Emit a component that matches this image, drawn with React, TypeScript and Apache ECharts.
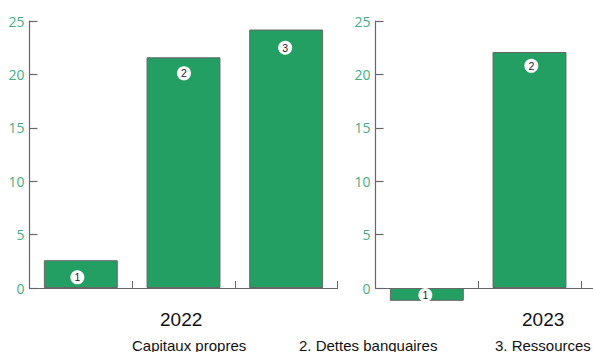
import React, { useEffect, useRef } from "react";
import * as echarts from "echarts";

const categories2022 = ["1", "2", "3"];
const values2022 = [2.6, 21.6, 24.2];
const badges2022 = [1.0, 20.1, 22.5];

const categories2023 = ["1", "2", "3"];
const values2023: (number | null)[] = [-1.2, 22.1, null];
const badges2023: (number | null)[] = [-0.65, 20.8, null];

const yearLabels = ["2022", "2023"];
const legendLabels = ["Capitaux propres", "2. Dettes banquaires", "3. Ressources"];

const badgeShift2022 = [-3.5, 0.5, -1];
const badgeShift2023 = [-1.5, 1.8, 0];

const GREEN = "#239f63";
const TICK_GREEN = "#45ad7f";
const AXIS_GREY = "#666666";

const makeXAxis = (gridIndex: number, data: string[]) => ({
  type: "category" as const,
  gridIndex,
  data,
  axisLine: { onZero: true, lineStyle: { color: AXIS_GREY, width: 1.2 } },
  axisTick: { show: true, inside: true, length: 7, lineStyle: { color: AXIS_GREY } },
  axisLabel: { show: false },
  splitLine: { show: false },
});

const makeYAxis = (gridIndex: number) => ({
  type: "value" as const,
  gridIndex,
  min: 0,
  max: 25,
  interval: 5,
  axisLine: { show: true, lineStyle: { color: AXIS_GREY, width: 1.2 } },
  axisTick: { show: true, inside: true, length: 8, lineStyle: { color: AXIS_GREY, width: 1.2 } },
  axisLabel: {
    color: TICK_GREEN,
    fontFamily: "Open Sans",
    fontSize: 14,
    margin: 5,
  },
  splitLine: { show: false },
});

const makeBars = (index: number, values: (number | null)[]) => ({
  type: "bar" as const,
  xAxisIndex: index,
  yAxisIndex: index,
  data: values,
  barWidth: "72%",
  clip: false,
  itemStyle: { color: GREEN, borderColor: AXIS_GREY, borderWidth: 1 },
});

const makeBadges = (
  index: number,
  values: (number | null)[],
  labels: string[],
  shifts: number[],
) => ({
  type: "scatter" as const,
  xAxisIndex: index,
  yAxisIndex: index,
  clip: false,
  z: 5,
  symbol: "circle",
  symbolSize: 14,
  itemStyle: { color: "#ffffff", opacity: 1 },
  data: values.map((value, i) => ({
    value: [i, value],
    symbolOffset: [shifts[i], 0],
    label: {
      show: value !== null,
      position: "inside",
      formatter: labels[i],
      color: "#222222",
      fontFamily: "Liberation Sans",
      fontSize: 10.5,
    },
  })),
});

const caption = (text: string, x: number, y: number, fontSize: number) => ({
  type: "text" as const,
  x,
  y,
  style: {
    text,
    fill: "#111111",
    fontFamily: "Liberation Sans",
    fontSize,
    textAlign: "left",
    textVerticalAlign: "middle",
  },
});

export default function App() {
  const ref = useRef<HTMLDivElement>(null);

  useEffect(() => {
    const chart = echarts.init(ref.current!, null, { renderer: "svg" });
    chart.setOption({
      animation: false,
      grid: [
        { left: 29.5, top: 21, width: 308, height: 267 },
        { left: 375.5, top: 21, width: 308, height: 267 },
      ],
      xAxis: [makeXAxis(0, categories2022), makeXAxis(1, categories2023)],
      yAxis: [makeYAxis(0), makeYAxis(1)],
      series: [
        makeBars(0, values2022),
        makeBars(1, values2023),
        makeBadges(0, badges2022, categories2022, badgeShift2022),
        makeBadges(1, badges2023, categories2023, badgeShift2023),
      ],
      graphic: [
        caption(yearLabels[0], 160, 319, 19),
        caption(yearLabels[1], 522, 319, 19),
        caption(legendLabels[0], 132, 345, 15),
        caption(legendLabels[1], 299, 345, 15),
        caption(legendLabels[2], 495, 345, 15),
      ],
    });
    return () => chart.dispose();
  }, []);

  // The third 2023 slot runs past the page edge, so the chart is wider than its frame.
  return (
    <div style={{ position: "absolute", left: 0, top: 0, width: 593, height: 352, overflow: "hidden" }}>
      <div ref={ref} style={{ width: 720, height: 352 }} />
    </div>
  );
}
